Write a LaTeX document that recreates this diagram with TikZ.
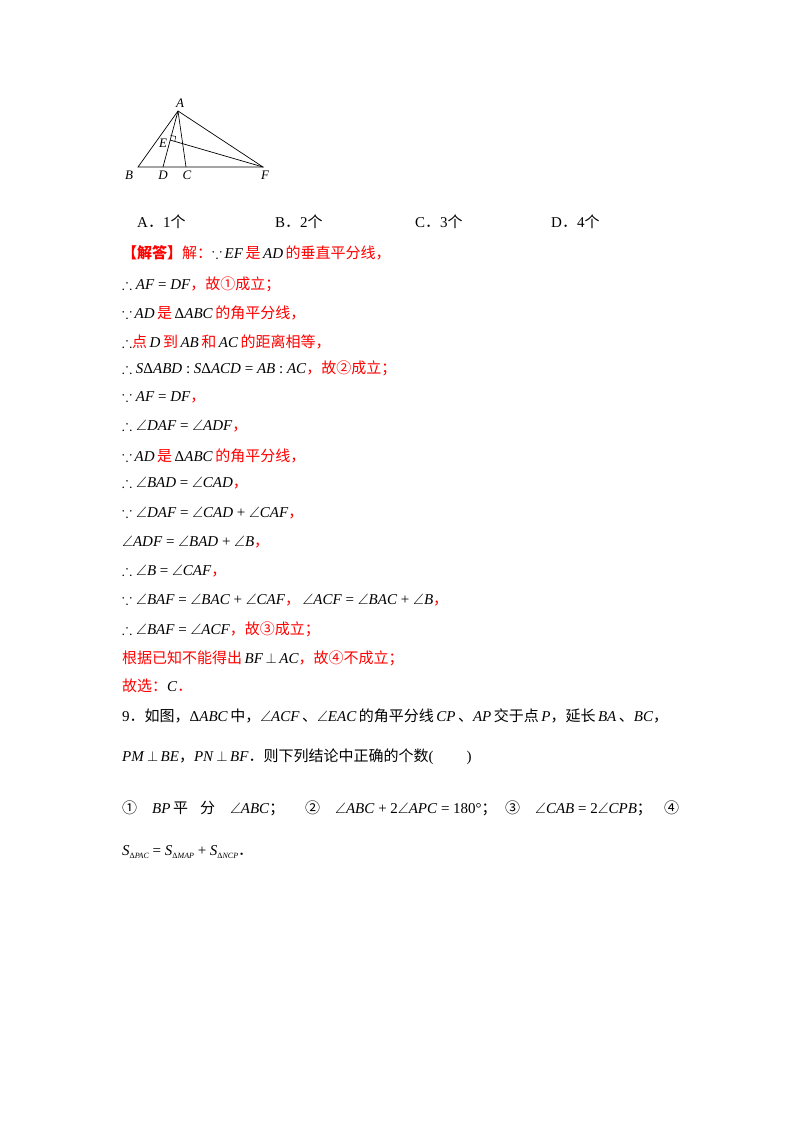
\documentclass[tikz,border=0pt]{standalone}
\usetikzlibrary{calc}
\usepackage{amssymb}
\usepackage{fontspec}
\setmainfont{Liberation Serif}
\newfontfamily\cjk{Noto Sans CJK SC}
\newcommand{\R}[1]{\textcolor{red}{\cjk #1}}
\newcommand{\K}[1]{{\cjk #1}}
\begin{document}
\begin{tikzpicture}[x=1pt,y=-1pt,
  ln/.style={anchor=west,inner sep=0pt,font=\fontsize{15}{17}\selectfont},
  lab/.style={inner sep=0pt,font=\fontsize{13}{15}\selectfont\itshape},
  seg/.style={line width=0.7pt}]
\useasboundingbox (0,0) rectangle (800,1132);
\fill[white] (0,0) rectangle (800,1132);
% figure
\coordinate (A) at (178,111);
\coordinate (B) at (138,167);
\coordinate (D) at (163,167);
\coordinate (C) at (186,167);
\coordinate (F) at (263,167);
\coordinate (E) at (170,140);
\draw[seg] (B) -- (F) -- (A) -- cycle;
\draw[seg] (A) -- (D);
\draw[seg] (A) -- (C);
\draw[seg] (E) -- (F);
\draw[line width=0.5pt] ($(E)!5pt!(F)$) -- ++(0.9,-5) -- ++(-5,-0.9);
\node[lab] (lA) at (180,103) {A};
\node[lab] (lE) at (163,143) {E};
\node[lab] (lB) at (129,175) {B};
\node[lab] (lD) at (163,175) {D};
\node[lab] (lC) at (187,175) {C};
\node[lab] (lF) at (265,175) {F};
% options
\node[ln] (o1) at (137,222) {A\K{．}1\K{个}};
\node[ln] (o2) at (275,222) {B\K{．}2\K{个}};
\node[ln] (o3) at (415,222) {C\K{．}3\K{个}};
\node[ln] (o4) at (551,222) {D\K{．}4\K{个}};
% solution
\node[ln] (s1) at (122,253) {\R{\bfseries 【解答】}\R{解：}$\because$\,\textit{EF}\,\R{是}\,\textit{AD}\,\R{的垂直平分线，}};
\node[ln] (s2) at (122,284) {$\therefore$ \textit{AF} = \textit{DF}\R{，故①成立；}};
\node[ln] (s3) at (122,313) {$\because$\,\textit{AD}\,\R{是}\,Δ\textit{ABC}\,\R{的角平分线，}};
\node[ln] (s4) at (122,342) {$\therefore$\R{点}\,\textit{D}\,\R{到}\,\textit{AB}\,\R{和}\,\textit{AC}\,\R{的距离相等，}};
\node[ln] (s5) at (122,368) {$\therefore$ \textit{S}Δ\textit{ABD} : \textit{S}Δ\textit{ACD} = \textit{AB} : \textit{AC}\R{，故②成立；}};
\node[ln] (s6) at (122,397) {$\because$ \textit{AF} = \textit{DF}\R{，}};
\node[ln] (s7) at (122,426) {$\therefore\angle$\textit{DAF} = $\angle$\textit{ADF}\R{，}};
\node[ln] (s8) at (122,456) {$\because$\,\textit{AD}\,\R{是}\,Δ\textit{ABC}\,\R{的角平分线，}};
\node[ln] (s9) at (122,483) {$\therefore\angle$\textit{BAD} = $\angle$\textit{CAD}\R{，}};
\node[ln] (s10) at (122,513) {$\because\angle$\textit{DAF} = $\angle$\textit{CAD} + $\angle$\textit{CAF}\R{，}};
\node[ln] (s11) at (122,542) {$\angle$\textit{ADF} = $\angle$\textit{BAD} + $\angle$\textit{B}\R{，}};
\node[ln] (s12) at (122,571) {$\therefore\angle$\textit{B} = $\angle$\textit{CAF}\R{，}};
\node[ln] (s13) at (122,600) {$\because\angle$\textit{BAF} = $\angle$\textit{BAC} + $\angle$\textit{CAF}\R{，}\,$\angle$\textit{ACF} = $\angle$\textit{BAC} + $\angle$\textit{B}\R{，}};
\node[ln] (s14) at (122,629) {$\therefore\angle$\textit{BAF} = $\angle$\textit{ACF}\R{，故③成立；}};
\node[ln] (s15) at (122,658) {\R{根据已知不能得出}\,\textit{BF}\,$\perp$\,\textit{AC}\R{，故④不成立；}};
\node[ln] (s16) at (122,686) {\R{故选：}\textit{C}\R{．}};
% question 9
\node[ln] (q1) at (122,716) {9\K{．如图，}Δ\textit{ABC}\,\K{中，}$\angle$\textit{ACF}\,\K{、}$\angle$\textit{EAC}\,\K{的角平分线}\,\textit{CP}\,\K{、}\textit{AP}\,\K{交于点}\,\textit{P}\K{，延长}\,\textit{BA}\,\K{、}\textit{BC}\K{，}};
\node[ln] (q2) at (122,757) {\textit{PM}\,$\perp$\,\textit{BE}\K{，}\textit{PN}\,$\perp$\,\textit{BF}\K{．则下列结论中正确的个数}(\hspace{2.2em})};
\node[ln] (q3a) at (122,808) {\K{①}\hspace{1em}\textit{BP}\,\K{平\hspace{0.8em}分}\hspace{1em}$\angle$\textit{ABC}\K{；}};
\node[ln] (q3b) at (305,808) {\K{②}\hspace{1em}$\angle$\textit{ABC} + 2$\angle$\textit{APC} = 180°\K{；}};
\node[ln] (q3c) at (505,808) {\K{③}\hspace{1em}$\angle$\textit{CAB} = 2$\angle$\textit{CPB}\K{；}};
\node[ln] (q3d) at (664,808) {\K{④}};
\node[ln] (q4) at (122,852) {\textit{S}\raisebox{-3pt}{\fontsize{8}{9}\selectfont Δ\textit{PAC}} = \textit{S}\raisebox{-3pt}{\fontsize{8}{9}\selectfont Δ\textit{MAP}} + \textit{S}\raisebox{-3pt}{\fontsize{8}{9}\selectfont Δ\textit{NCP}}\K{．}};
\end{tikzpicture}
\end{document}
